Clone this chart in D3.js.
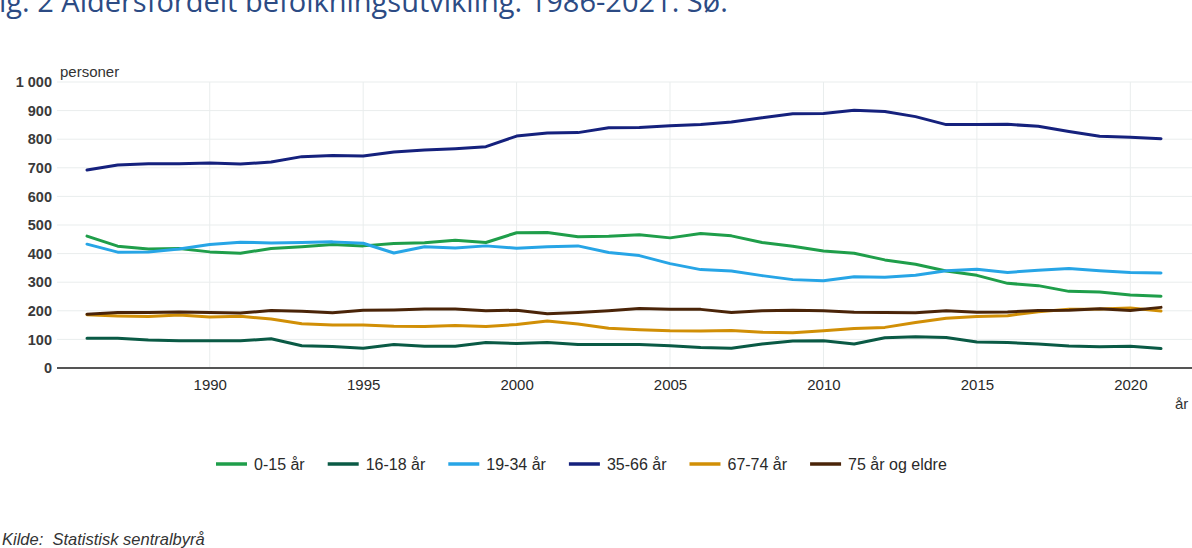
<!DOCTYPE html>
<html>
<head>
<meta charset="utf-8">
<script src="https://cdn.jsdelivr.net/npm/d3@7"></script>
<style>
  body { margin: 0; background: #fff; }
  svg { display: block; }
</style>
</head>
<body>
<svg width="1192" height="548"></svg>
<script>
// years on the x axis
const years = d3.range(1986, 2022);

// persons per age group
const age0_15 = [461, 426, 416, 418, 406, 401, 418, 424, 432, 427, 435, 438, 447, 439, 473, 474,
    459, 461, 466, 455, 470, 462, 439, 426, 409, 401, 378, 363, 339, 324, 296, 288, 268, 266, 255, 251];
const age16_18 = [104, 104, 98, 95, 95, 95, 102, 78, 75, 69, 82, 76, 76, 89, 86, 89,
    82, 82, 82, 78, 72, 69, 84, 94, 95, 84, 106, 109, 107, 91, 89, 84, 77, 74, 76, 68];
const age19_34 = [433, 405, 406, 416, 432, 440, 437, 439, 441, 436, 402, 424, 420, 427, 419, 424,
    427, 404, 393, 365, 344, 339, 323, 309, 305, 319, 317, 324, 340, 345, 334, 342, 348, 340, 334, 332];
const age35_66 = [692, 710, 714, 714, 717, 713, 720, 739, 743, 741, 755, 762, 767, 774, 811, 822,
    823, 840, 841, 847, 851, 860, 875, 889, 890, 901, 897, 879, 851, 851, 852, 845, 827, 810, 807, 802];
const age67_74 = [186, 182, 180, 185, 178, 181, 171, 155, 150, 150, 146, 145, 149, 145, 152, 164,
    154, 139, 134, 130, 129, 131, 125, 123, 130, 138, 142, 159, 174, 180, 183, 197, 205, 206, 210, 199];
const age75 = [188, 194, 194, 196, 194, 192, 201, 198, 193, 202, 203, 206, 206, 200, 202, 190,
    194, 200, 208, 205, 205, 194, 200, 202, 200, 195, 194, 193, 200, 195, 196, 201, 202, 207, 201, 212];

const seriesNames = ["0-15 år", "16-18 år", "19-34 år", "35-66 år", "67-74 år", "75 år og eldre"];
const seriesValues = [age0_15, age16_18, age19_34, age35_66, age67_74, age75];
const colors = ["#1f9e4a", "#0a5a45", "#27a5e6", "#15217d", "#d18f06", "#4a2408"];

const yTicks = d3.range(0, 1001, 100);
const xTicks = d3.range(1990, 2021, 5);

const svg = d3.select("svg");
const fontFamily = "'Liberation Sans', Arial, sans-serif";

const plotLeft = 57, plotRight = 1192, plotTop = 82, plotBottom = 368;

const x = d3.scaleLinear().domain([1986, 2021]).range([87, 1161]);
const y = d3.scaleLinear().domain([0, 1000]).range([plotBottom, plotTop]);

/* ----------- title (cut by the top edge, as in the source) ----------- */
svg.append("text")
    .attr("x", -16)
    .attr("y", 12)
    .attr("font-family", "'Open Sans', sans-serif")
    .attr("font-size", 29)
    .attr("fill", "#2c4b84")
    .text("Fig. 2 Aldersfordelt befolkningsutvikling. 1986-2021. Sø.");

/* ----------- grid ----------- */
svg.append("g")
    .selectAll("line")
    .data(yTicks.slice(1))
    .join("line")
    .attr("x1", plotLeft).attr("x2", plotRight)
    .attr("y1", d => y(d)).attr("y2", d => y(d))
    .attr("stroke", "#e9eded")
    .attr("stroke-width", 1);

svg.append("g")
    .selectAll("line")
    .data(xTicks)
    .join("line")
    .attr("x1", d => x(d)).attr("x2", d => x(d))
    .attr("y1", plotTop).attr("y2", plotBottom)
    .attr("stroke", "#e9eded")
    .attr("stroke-width", 1);

/* ----------- axes ----------- */
const yAxis = svg.append("g")
    .attr("transform", `translate(${plotLeft - 5},0)`)
    .call(d3.axisLeft(y).tickValues(yTicks).tickSize(0).tickPadding(0)
        .tickFormat(d => d3.format(",")(d).replace(",", " ")));
yAxis.select(".domain").remove();
yAxis.selectAll("text")
    .attr("font-family", fontFamily)
    .attr("font-size", 14.5)
    .attr("font-weight", "bold")
    .attr("fill", "#3a3a3a");

const xAxis = svg.append("g")
    .attr("transform", `translate(0,${plotBottom})`)
    .call(d3.axisBottom(x).tickValues(xTicks).tickSize(0).tickPadding(11).tickFormat(d3.format("d")));
xAxis.select(".domain").remove();
xAxis.selectAll("text")
    .attr("font-family", fontFamily)
    .attr("font-size", 15)
    .attr("fill", "#2a2a2a");

svg.append("line")
    .attr("x1", plotLeft).attr("x2", plotRight)
    .attr("y1", plotBottom).attr("y2", plotBottom)
    .attr("stroke", "#555")
    .attr("stroke-width", 2);

svg.append("text")
    .attr("x", 60).attr("y", 77)
    .attr("font-family", fontFamily)
    .attr("font-size", 15)
    .attr("fill", "#333")
    .text("personer");

svg.append("text")
    .attr("x", 1175).attr("y", 409)
    .attr("font-family", fontFamily)
    .attr("font-size", 15)
    .attr("fill", "#333")
    .text("år");

/* ----------- lines ----------- */
const line = d3.line()
    .x((d, i) => x(years[i]))
    .y(d => y(d));

svg.append("g")
    .selectAll("path")
    .data(seriesValues)
    .join("path")
    .attr("fill", "none")
    .attr("stroke", (d, i) => colors[i])
    .attr("stroke-width", 3)
    .attr("stroke-linejoin", "round")
    .attr("stroke-linecap", "round")
    .attr("d", line);

/* ----------- legend ----------- */
const legend = svg.append("g").attr("transform", "translate(216,464)");
let lx = 0;
seriesNames.forEach((name, i) => {
    const item = legend.append("g").attr("transform", `translate(${lx},0)`);
    item.append("line")
        .attr("x1", 0).attr("x2", 31)
        .attr("stroke", colors[i])
        .attr("stroke-width", 3.5);
    const t = item.append("text")
        .attr("x", 38).attr("y", 5.5)
        .attr("font-family", fontFamily)
        .attr("font-size", 16)
        .attr("fill", "#2a2a2a")
        .text(name);
    lx += 38 + t.node().getComputedTextLength() + 23;
});

/* ----------- source ----------- */
svg.append("text")
    .attr("x", 2).attr("y", 545)
    .attr("font-family", fontFamily)
    .attr("font-size", 16.5)
    .attr("font-style", "italic")
    .attr("fill", "#333")
    .attr("xml:space", "preserve")
    .text("Kilde:  Statistisk sentralbyrå");
</script>
</body>
</html>
